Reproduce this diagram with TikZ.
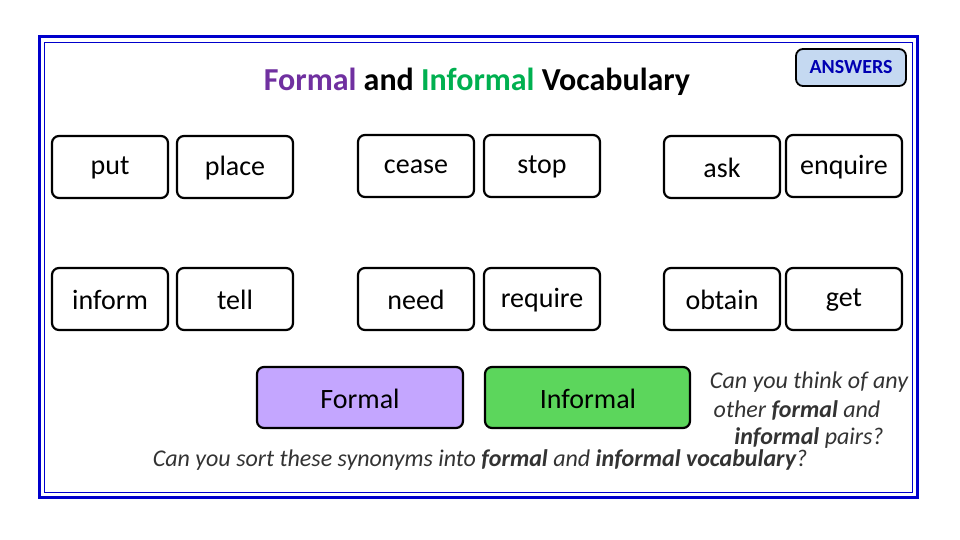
\documentclass[tikz,border=0pt]{standalone}
\usepackage{fontspec}
\setmainfont{Carlito}
\definecolor{fpurp}{HTML}{C4A6FF}
\definecolor{fgreen}{HTML}{5CD65C}
\definecolor{tpurp}{HTML}{7030A0}
\definecolor{tgreen}{HTML}{00B050}
\definecolor{ansfill}{HTML}{C5D9F1}
\begin{document}
\begin{tikzpicture}[x=1pt,y=-1pt,
 wbox/.style={draw=black,line width=2.2pt,rounded corners=7pt,fill=white},
 wtxt/.style={font=\fontsize{28}{32}\selectfont},
 ctxt/.style={font=\fontsize{24}{28}\selectfont\itshape,text=black!80}]
\useasboundingbox (0,0) rectangle (960,540);
\draw[blue!80!black,line width=3pt] (39,37) rectangle (917,497);
\draw[blue!80!black,line width=0.8pt] (44,42) rectangle (912,492);
\node (title) at (477,82) {\fontsize{32}{36}\selectfont\bfseries\textcolor{tpurp}{Formal} and \textcolor{tgreen}{Informal} Vocabulary};
\draw[wbox,fill=ansfill,line width=1.8pt] (796,49) rectangle (906,86);
\node (ans) at (851,67) {\fontsize{20}{22}\selectfont\bfseries\textcolor{blue!70!black}{ANSWERS}};
\foreach \x/\y/\t/\n in {52/136/put/a,177/136/place/b,358/135/cease/c,484/135/stop/d,664/136/ask/e,786/135/enquire/f,
 52/268/inform/g,177/268/tell/h,358/268/need/i,484/268/require/j,664/268/obtain/k,786/268/get/l}{
 \draw[wbox] (\x,\y) rectangle +(116,62);
 \node[wtxt] (\n) at (\x+58,\y+32) {\t};}
\draw[wbox,fill=fpurp] (257,367) rectangle (463,428);
\draw[wbox,fill=fgreen] (485,367) rectangle (690,428);
\node[wtxt] (fo) at (360,399) {Formal};
\node[wtxt] (inf) at (588,399) {Informal};
\node[ctxt] (q1) at (809,382) {Can you think of any};
\node[ctxt] (q2) at (797,410) {other \textbf{formal} and};
\node[ctxt] (q3) at (809,438) {\textbf{informal} pairs?};
\node[ctxt] (q4) at (480,460) {Can you sort these synonyms into \textbf{formal} and \textbf{informal vocabulary}?};
\end{tikzpicture}
\end{document}
